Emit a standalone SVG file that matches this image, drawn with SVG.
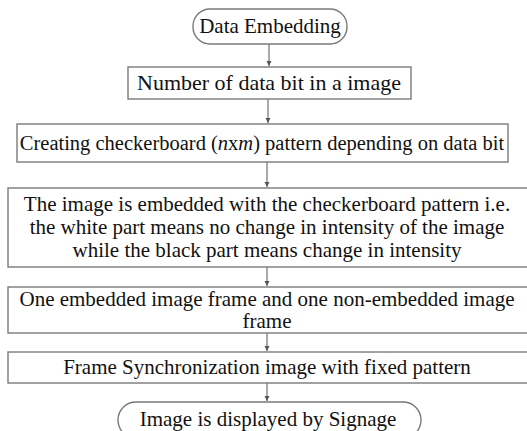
<svg xmlns="http://www.w3.org/2000/svg" width="527" height="431" viewBox="0 0 527 431">
<style>
.b{fill:#fff;stroke:#7a7a7a;stroke-width:1.4}
.c{stroke:#555;stroke-width:1;fill:none;marker-end:url(#ah)}
</style>
<defs>
<marker id="ah" markerWidth="6" markerHeight="6" refX="5" refY="3" orient="auto" markerUnits="userSpaceOnUse">
<path d="M0,0.5 L5,3 L0,5.5 Z" fill="#555"/>
</marker>
</defs>
<rect width="527" height="431" fill="#fff"/>
<g id="connectors">
<line class="c" x1="269" y1="44" x2="269" y2="66"/>
<line class="c" x1="268" y1="99" x2="268" y2="123"/>
<line class="c" x1="267" y1="162" x2="267" y2="187"/>
<line class="c" x1="267" y1="267" x2="267" y2="286"/>
<line class="c" x1="267" y1="333" x2="267" y2="351"/>
<line class="c" x1="267" y1="383" x2="267" y2="401"/>
</g>
<g font-family="Liberation Serif, Times New Roman, serif" font-size="21" fill="#111" text-anchor="middle">
<g id="start">
<rect class="b" x="193" y="9" width="154" height="35" rx="17" ry="17"/>
<text x="270" y="33">Data Embedding</text>
</g>
<g id="n1">
<rect class="b" x="128" y="67" width="283" height="32"/>
<text x="269" y="90" font-size="22">Number of data bit in a image</text>
</g>
<g id="n2">
<rect class="b" x="17" y="124" width="491" height="38"/>
<text x="262" y="150" font-size="20.5">Creating checkerboard (<tspan font-style="italic">n</tspan>x<tspan font-style="italic">m</tspan>) pattern depending on data bit</text>
</g>
<g id="n3">
<rect class="b" x="8" y="188" width="525" height="79"/>
<text x="267" y="211">The image is embedded with the checkerboard pattern i.e.</text>
<text x="267" y="234">the white part means no change in intensity of the image</text>
<text x="267" y="257">while the black part means change in intensity</text>
</g>
<g id="n4">
<rect class="b" x="8" y="287" width="525" height="46"/>
<text x="267" y="306">One embedded image frame and one non-embedded image</text>
<text x="267" y="328">frame</text>
</g>
<g id="n5">
<rect class="b" x="8" y="352" width="525" height="31"/>
<text x="267" y="374">Frame Synchronization image with fixed pattern</text>
</g>
<g id="end">
<rect class="b" x="118" y="402" width="303" height="36" rx="18" ry="18"/>
<text x="268" y="426">Image is displayed by Signage</text>
</g>
</g>
</svg>
